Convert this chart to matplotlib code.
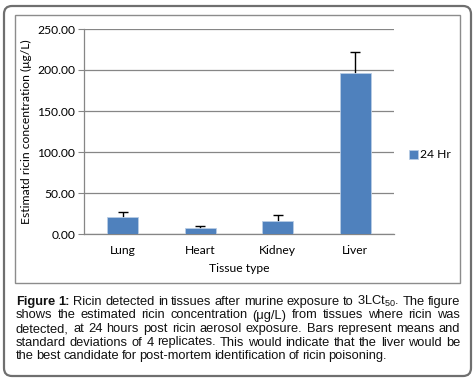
import matplotlib
matplotlib.use("Agg")
import matplotlib.pyplot as plt
from matplotlib.patches import FancyBboxPatch, Rectangle
from matplotlib.transforms import IdentityTransform
import numpy as np

# data
tissues = ["Lung", "Heart", "Kidney", "Liver"]
means = [21.0, 7.0, 15.5, 196.5]
sds = [5.5, 2.5, 7.3, 26.0]
y_ticks = [0, 50, 100, 150, 200, 250]
series_name = "24 Hr"

plt.rcParams["mathtext.fontset"] = "custom"
plt.rcParams["mathtext.rm"] = "Liberation Sans"
plt.rcParams["mathtext.it"] = "Liberation Sans:italic"
plt.rcParams["mathtext.bf"] = "Liberation Sans:bold"

W, H = 475, 379
fig = plt.figure(figsize=(W / 100, H / 100), dpi=100)
ident = IdentityTransform()

def fx(x):
    return x / W

def fy(y):
    return 1 - y / H

# outer rounded frame and inner chart frame (pixel coordinates, top-left origin)
fig.patches.append(FancyBboxPatch((4, H - 376), 467, 370,
                                  boxstyle="round,pad=0,rounding_size=8",
                                  fc="none", ec="#6f6f6f", lw=1.6,
                                  transform=ident, figure=fig))
fig.patches.append(Rectangle((15, H - 283), 445, 268, fc="none", ec="#8c8c8c",
                             lw=1.0, transform=ident, figure=fig))

chart_font = "Lato"
fs = 8.7
ax = fig.add_axes([fx(84), fy(234), fx(310), (234 - 29) / H])
x = np.arange(len(tissues))
# error bars sit behind the bars so only the upper half shows
ax.errorbar(x, means, yerr=sds, fmt="none", ecolor="black",
            elinewidth=1.0, capsize=3.5, capthick=1.0, zorder=2)
ax.bar(x, means, width=0.4, color="#4f81bd", edgecolor="#b9cde5", linewidth=0.6,
       label=series_name, zorder=3)

ax.set_xlim(-0.5, len(tissues) - 0.5)
ax.set_ylim(0, 250)
ax.set_yticks(y_ticks)
ax.set_yticklabels([f"{v:.2f}" for v in y_ticks], fontsize=fs, family=chart_font)
ax.set_xticks(x)
ax.set_xticklabels(tissues, fontsize=fs, family=chart_font)
ax.tick_params(axis="x", length=0, pad=8)
ax.tick_params(axis="y", length=4.3, color="#868686", pad=2)
ax.yaxis.grid(True, color="#868686", lw=0.9, zorder=0)
ax.set_axisbelow(True)
for s in ["top", "right"]:
    ax.spines[s].set_visible(False)
for s in ["left", "bottom"]:
    ax.spines[s].set_color("#868686")
    ax.spines[s].set_linewidth(0.9)

ax.set_xlabel("Tissue type", fontsize=fs, family=chart_font, labelpad=5)
ax.set_ylabel("Estimatd ricin concentration (\u03bcg/L)", fontsize=fs,
              family=chart_font, labelpad=4)

leg = ax.legend(loc="center left", bbox_to_anchor=(fx(409), fy(155)),
                bbox_transform=fig.transFigure, frameon=False, borderpad=0,
                borderaxespad=0,
                prop={"family": chart_font, "size": fs},
                handlelength=0.75, handleheight=0.75, handletextpad=0.2)

# caption, justified line by line
cap_font = "Liberation Sans"
cap_size = 9.3
lines = [
    "Figure 1: Ricin detected in tissues after murine exposure to 3LCt$\\mathregular{_{50}}$. The figure",
    "shows the estimated ricin concentration (\u03bcg/L) from tissues where ricin was",
    "detected, at 24 hours post ricin aerosol exposure. Bars represent means and",
    "standard deviations of 4 replicates. This would indicate that the liver would be",
    "the best candidate for post-mortem identification of ricin poisoning.",
]
left, right = 16, 460
baselines = [305, 318.5, 332, 345.5, 359]

fig.canvas.draw()
renderer = fig.canvas.get_renderer()

for i, line in enumerate(lines):
    words = line.split(" ")
    texts = []
    for j, w in enumerate(words):
        bold = i == 0 and j < 2
        t = fig.text(0, 0, w, fontsize=cap_size, family=cap_font,
                     weight="bold" if bold else "normal", color="#111111",
                     transform=ident, va="baseline", ha="left")
        texts.append(t)
    widths = [t.get_window_extent(renderer).width for t in texts]
    last = i == len(lines) - 1
    if last:
        gap = 2.6
    else:
        gap = (right - left - sum(widths)) / (len(words) - 1)
    xpos = left
    for t, wd in zip(texts, widths):
        t.set_position((xpos, H - baselines[i]))
        xpos += wd + gap

fig.savefig("out.png", dpi=100)
